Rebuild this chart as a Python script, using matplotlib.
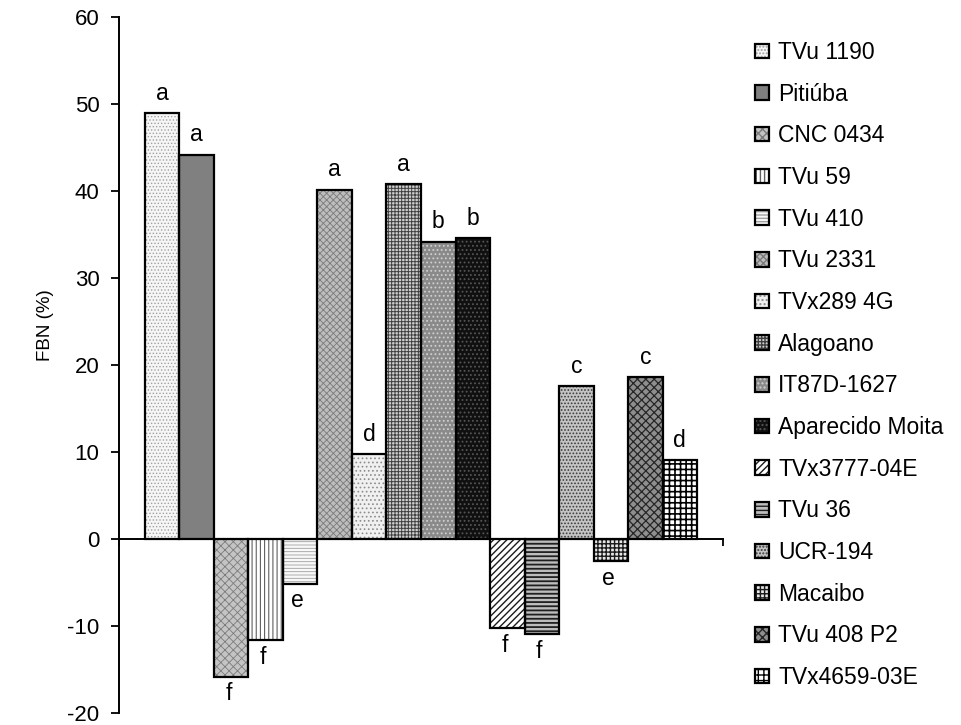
import matplotlib
matplotlib.use("Agg")
import matplotlib.pyplot as plt
import numpy as np

plt.rcParams['font.family'] = ['Liberation Sans', 'DejaVu Sans']

# ---- data ----
cultivars = ["TVu 1190", "Pitiúba", "CNC 0434", "TVu 59", "TVu 410", "TVu 2331",
             "TVx289 4G", "Alagoano", "IT87D-1627", "Aparecido Moita", "TVx3777-04E",
             "TVu 36", "UCR-194", "Macaibo", "TVu 408 P2", "TVx4659-03E"]
fbn = [49.0, 44.2, -15.8, -11.6, -5.1, 40.2, 9.8, 40.8, 34.2, 34.6, -10.2,
       -10.9, 17.6, -2.5, 18.6, 9.1]
letters = ["a", "a", "f", "f", "e", "a", "d", "a", "b", "b", "f", "f", "c", "e", "c", "d"]
yticks = [-20, -10, 0, 10, 20, 30, 40, 50, 60]

# ---- styles (face colour, hatch, hatch colour, hatch linewidth) ----
faces = ['#f6f6f6', '#808080', '#c4c4c4', '#ffffff', '#f8f8f8', '#bdbdbd',
         '#f0f0f0', '#cfcfcf', '#8a8a8a', '#101010', '#ffffff', '#bdbdbd',
         '#c4c4c4', '#e6e6e6', '#8e8e8e', '#ffffff']
hatches = ['.....', '', 'xxxx', '||||', '-----', 'xxxxx',
           '....', '+++++', '....', '....', '/////', '----',
           '.....', '++++', 'xxxx', '+++']
hcolors = ['#a0a0a0', '#808080', '#7c7c7c', '#606060', '#a0a0a0', '#7a7a7a',
           '#8c8c8c', '#404040', '#cfcfcf', '#555555', '#1a1a1a', '#202020',
           '#3c3c3c', '#1a1a1a', '#262626', '#000000']
hlw = [0.6, 0.5, 0.6, 0.8, 0.6, 0.6, 0.7, 0.7, 0.8, 0.8, 1.0, 1.3,
       0.8, 1.0, 0.9, 1.2]

fig = plt.figure(figsize=(9.61, 7.25), dpi=100)
ax = fig.add_axes([119 / 961, 1 - 713.3 / 725, (723 - 119) / 961, (713.3 - 17.3) / 725])

x = np.arange(len(fbn))
handles = []
for i in range(len(fbn)):
    with plt.rc_context({'hatch.linewidth': hlw[i]}):
        b1 = ax.bar(x[i], fbn[i], width=1.0, color=faces[i], edgecolor=hcolors[i],
                    hatch=hatches[i] if hatches[i] else None, linewidth=0, zorder=2)
    b2 = ax.bar(x[i], fbn[i], width=1.0, fill=False, edgecolor='black',
                linewidth=1.6, zorder=3)
    handles.append((b1[0], b2[0]))

for i, (v, t) in enumerate(zip(fbn, letters)):
    if v >= 0:
        ax.annotate(t, (x[i], v), xytext=(0, 6), textcoords='offset points',
                    ha='center', va='bottom', fontsize=16.5)
    else:
        ax.annotate(t, (x[i], v), xytext=(-2, -4), textcoords='offset points',
                    ha='center', va='top', fontsize=16.5)

ax.set_xlim(-1.25, 16.25)
ax.set_ylim(-20, 60)
ax.set_yticks(yticks)
ax.set_yticklabels([str(t) for t in yticks], fontsize=16)
ax.set_xticks([-1.25, 16.25])
ax.set_xticklabels(['', ''])
ax.spines['top'].set_visible(False)
ax.spines['right'].set_visible(False)
ax.spines['bottom'].set_position(('data', 0))
ax.spines['left'].set_linewidth(1.4)
ax.spines['bottom'].set_linewidth(1.4)
ax.tick_params(axis='y', direction='out', length=6, width=1.3, pad=8)
ax.tick_params(axis='x', direction='out', length=5, width=1.3)

fig.text(45 / 961, 1 - 325 / 725, "FBN (%)", rotation=90, fontsize=13.5,
         ha='center', va='center')

leg = fig.legend(handles, cultivars, loc='center left',
                 bbox_to_anchor=(755 / 961, 1 - 365 / 725),
                 frameon=False, fontsize=16.5, handlelength=0.62, handleheight=0.6,
                 handletextpad=0.4, labelspacing=0.815, borderpad=0, borderaxespad=0)

fig.savefig("out.png", dpi=100)
